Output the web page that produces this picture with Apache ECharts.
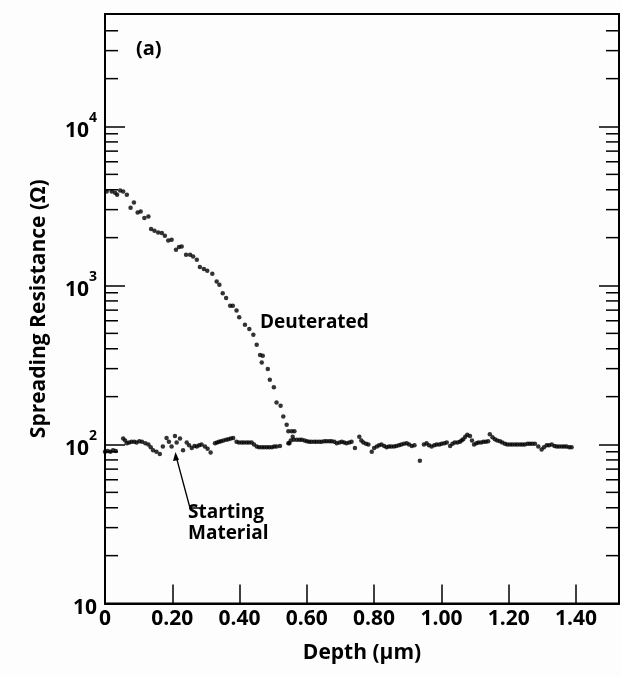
<!DOCTYPE html>
<html>
<head>
<meta charset="utf-8">
<script src="https://cdn.jsdelivr.net/npm/echarts@6/dist/echarts.min.js"></script>
<style>
  html, body { margin: 0; padding: 0; background: #fdfdfd; }
  #chart { width: 621px; height: 676px; }
</style>
</head>
<body>
<div id="chart"></div>
<script>
// ---- data ----
const deutDepth = [0.005,0.020,0.030,0.036,0.045,0.054,0.065,0.076,0.086,0.097,0.106,0.117,0.129,0.137,0.147,0.158,0.169,0.178,0.188,0.198,0.211,0.220,0.228,0.241,0.253,0.262,0.273,0.282,0.294,0.304,0.319,0.332,0.340,0.350,0.360,0.372,0.380,0.391,0.399,0.416,0.429,0.441,0.451,0.461,0.466,0.469,0.484,0.490,0.502,0.510,0.522,0.530,0.540,0.545,0.548,0.555,0.558,0.563];
const deutValue = [3908,3908,3828,3724,3963,3908,3724,3083,3327,2877,2922,2655,2718,2265,2209,2157,2138,2056,1920,1940,1679,1746,1760,1560,1560,1522,1452,1306,1268,1237,1185,1059,1010,895,833,745,745,696,632,566,532,490,424,366,328,361,298,255,229,184,175,150,133,121,102,121,112,121];

const smDepth = [0.000,0.008,0.016,0.024,0.032,0.054,0.060,0.065,0.072,0.079,0.087,0.094,0.102,0.110,0.120,0.129,0.136,0.143,0.153,0.163,0.172,0.183,0.190,0.198,0.208,0.213,0.223,0.232,0.243,0.250,0.258,0.266,0.273,0.280,0.287,0.297,0.305,0.314,0.327,0.333,0.339,0.345,0.352,0.360,0.367,0.374,0.381,0.391,0.398,0.406,0.413,0.421,0.428,0.436,0.443,0.451,0.458,0.466,0.473,0.481,0.488,0.496,0.503,0.510,0.520,0.545,0.552,0.561,0.570,0.578,0.585,0.593,0.600,0.607,0.614,0.622,0.629,0.637,0.644,0.652,0.659,0.667,0.674,0.682,0.689,0.697,0.704,0.711,0.718,0.726,0.733,0.743,0.756,0.762,0.768,0.776,0.783,0.793,0.800,0.808,0.815,0.822,0.830,0.837,0.844,0.851,0.859,0.866,0.874,0.881,0.889,0.897,0.904,0.912,0.920,0.936,0.948,0.956,0.963,0.971,0.979,0.986,0.994,1.001,1.009,1.016,1.026,1.033,1.040,1.048,1.055,1.060,1.065,1.071,1.077,1.085,1.091,1.097,1.104,1.110,1.118,1.125,1.132,1.139,1.144,1.152,1.159,1.166,1.174,1.181,1.189,1.196,1.204,1.211,1.219,1.226,1.234,1.241,1.248,1.256,1.263,1.270,1.278,1.288,1.298,1.305,1.313,1.320,1.328,1.336,1.343,1.350,1.358,1.365,1.372,1.380,1.387];
const smValue = [90,91,90,92,91,109,106,102,103,104,104,103,105,104,102,100,96,92,90,87,97,110,104,97,113,103,109,92,103,99,95,98,97,99,100,97,94,89,102,103,104,105,106,107,108,109,110,104,103,103,103,103,103,103,100,97,96,96,96,96,96,96,97,97,98,102,106,107,107,107,107,106,105,104,104,104,104,104,104,105,105,105,105,104,102,103,104,103,102,103,104,95,112,106,103,101,100,90,95,97,99,100,98,96,97,97,97,98,99,100,101,102,100,98,99,79,100,102,99,97,99,100,100,101,102,103,98,101,103,103,104,106,108,112,115,113,106,100,102,103,103,104,104,105,116,111,108,106,105,103,101,100,100,100,100,100,100,100,100,101,101,101,101,97,93,96,99,99,100,98,97,97,97,97,97,96,96];

const xTickLabels = ['0','0.20','0.40','0.60','0.80','1.00','1.20','1.40'];
const yMinorTicks = [20,30,40,50,60,70,80,90,200,300,400,500,600,700,800,900,2000,3000,4000,5000,6000,7000,8000,9000,20000,30000,40000];

const X_MIN = 0, X_MAX = 1.528, Y_MIN = 10, Y_MAX = 51000;
const INK = '#000';
const FONT = '"Open Sans", "Liberation Sans", sans-serif';

const chart = echarts.init(document.getElementById('chart'), null, { renderer: 'canvas' });

function yLabel(v) {
  const lg = Math.log10(v);
  const e = Math.round(lg);
  if (Math.abs(lg - e) > 1e-6) return '';
  if (e === 1) return '{b|10}';
  return '{b|10}{s|' + e + '}';
}

const option = {
  backgroundColor: '#fdfdfd',
  animation: false,
  grid: { left: 105, top: 14, width: 514, height: 589.5, show: true, borderColor: INK, borderWidth: 2, backgroundColor: 'transparent' },
  xAxis: {
    type: 'value', min: X_MIN, max: X_MAX, interval: 0.2,
    axisLine: { show: true, lineStyle: { color: INK, width: 2 } },
    axisTick: { show: true, inside: true, length: 19, lineStyle: { color: INK, width: 1.5 } },
    splitLine: { show: false },
    axisLabel: {
      margin: 5, color: INK, fontFamily: FONT, fontWeight: 'bold', fontSize: 21,
      showMaxLabel: false,
      formatter: function (v) { const i = Math.round(v / 0.2); return (Math.abs(v - i * 0.2) < 1e-6 && i < xTickLabels.length) ? xTickLabels[i] : ''; }
    },
    name: 'Depth (\u03bcm)', nameLocation: 'middle', nameGap: 39,
    nameTextStyle: { color: INK, fontFamily: FONT, fontWeight: 'bold', fontSize: 21 }
  },
  yAxis: [{
    type: 'log', logBase: 10, min: Y_MIN, max: Y_MAX, position: 'left',
    axisLine: { show: true, lineStyle: { color: INK, width: 2 } },
    axisTick: { show: true, inside: true, length: 20, lineStyle: { color: INK, width: 1.5 } },
    splitLine: { show: false }, minorTick: { show: false },
    axisLabel: {
      margin: 8, color: INK, showMaxLabel: false, formatter: yLabel,
      rich: {
        b: { fontFamily: FONT, fontWeight: 'bold', fontSize: 21, color: INK, lineHeight: 30, verticalAlign: 'bottom' },
        s: { fontFamily: FONT, fontWeight: 'bold', fontSize: 14, color: INK, lineHeight: 30, verticalAlign: 'top' }
      }
    },
    name: 'Spreading Resistance (\u03a9)', nameLocation: 'middle', nameGap: 55, nameRotate: 90,
    nameTextStyle: { color: INK, fontFamily: FONT, fontWeight: 'bold', fontSize: 21 }
  }, {
    type: 'log', logBase: 10, min: Y_MIN, max: Y_MAX, position: 'right',
    axisLine: { show: true, lineStyle: { color: INK, width: 2 } },
    axisTick: { show: true, inside: true, length: 20, lineStyle: { color: INK, width: 1.5 } },
    axisLabel: { show: false }, splitLine: { show: false }
  }],
  graphic: [
    { type: 'text', left: 136, top: 39, style: { text: '(a)', fill: INK, font: 'bold 20px ' + FONT } },
    { type: 'text', left: 260, top: 313, style: { text: 'Deuterated', fill: INK, font: 'bold 19px ' + FONT } },
    { type: 'text', left: 188, top: 502, style: { text: 'Starting\nMaterial', fill: INK, font: 'bold 19px ' + FONT, lineHeight: 21 } },
    { type: 'polyline', shape: { points: [[200, 508], [190, 508], [176, 456]] }, style: { stroke: INK, lineWidth: 1.3, fill: null } },
    { type: 'polygon', shape: { points: [[175.5, 452], [173, 461], [179, 460]] }, style: { fill: INK } }
  ],
  series: [
    {
      name: 'Starting Material', type: 'scatter', symbol: 'circle', symbolSize: 4.5,
      itemStyle: { color: INK }, xAxisIndex: 0, yAxisIndex: 0,
      data: smDepth.map((d, i) => [d, smValue[i]])
    },
    {
      name: 'Deuterated', type: 'scatter', symbol: 'circle', symbolSize: 4.5,
      itemStyle: { color: INK }, xAxisIndex: 0, yAxisIndex: 0,
      data: deutDepth.map((d, i) => [d, deutValue[i]])
    },
    {
      name: 'minorTicks', type: 'custom', xAxisIndex: 0, yAxisIndex: 0, silent: true, clip: false,
      data: yMinorTicks.map(v => [X_MIN, v]),
      renderItem: function (params, api) {
        const v = api.value(1);
        const pL = api.coord([X_MIN, v]);
        const pR = api.coord([X_MAX, v]);
        return {
          type: 'group',
          children: [
            { type: 'line', shape: { x1: pL[0], y1: pL[1], x2: pL[0] + 13, y2: pL[1] }, style: { stroke: INK, lineWidth: 1.5 } },
            { type: 'line', shape: { x1: pR[0], y1: pR[1], x2: pR[0] - 13, y2: pR[1] }, style: { stroke: INK, lineWidth: 1.5 } }
          ]
        };
      }
    }
  ]
};
chart.setOption(option);
</script>
</body>
</html>
